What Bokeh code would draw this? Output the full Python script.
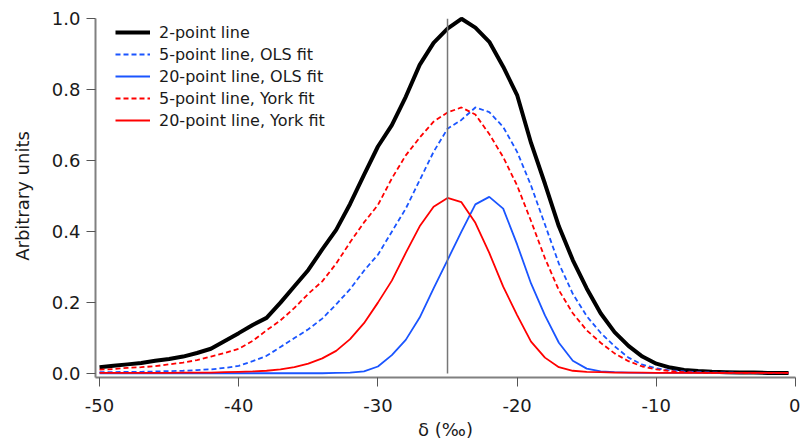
from bokeh.plotting import figure
from bokeh.embed import file_html
from bokeh.resources import INLINE
from bokeh.models import Legend, LegendItem, Range1d, FixedTicker, CustomJSTickFormatter

# ---- data ----
x_vals = [-50, -49, -48, -47, -46, -45, -44, -43, -42, -41,
          -40, -39, -38, -37, -36, -35, -34, -33, -32, -31,
          -30, -29, -28, -27, -26, -25, -24, -23, -22, -21,
          -20, -19, -18, -17, -16, -15, -14, -13, -12, -11,
          -10, -9, -8, -7, -6, -5, -4, -3, -2, -1, -0.5]

two_point = [0.018, 0.022, 0.026, 0.030, 0.036, 0.041, 0.048, 0.058, 0.070, 0.092,
             0.114, 0.137, 0.157, 0.200, 0.246, 0.292, 0.350, 0.405, 0.478, 0.560,
             0.640, 0.700, 0.780, 0.870, 0.932, 0.972, 1.000, 0.975, 0.935, 0.865,
             0.785, 0.650, 0.535, 0.415, 0.320, 0.240, 0.170, 0.117, 0.078, 0.048,
             0.028, 0.017, 0.010, 0.007, 0.005, 0.004, 0.003, 0.003, 0.002, 0.002, 0.002]

ols_5pt = [0.004, 0.004, 0.005, 0.005, 0.006, 0.007, 0.008, 0.010, 0.012, 0.016,
           0.022, 0.035, 0.050, 0.075, 0.100, 0.125, 0.155, 0.195, 0.238, 0.290,
           0.335, 0.400, 0.465, 0.545, 0.625, 0.690, 0.715, 0.750, 0.737, 0.695,
           0.625, 0.530, 0.420, 0.310, 0.225, 0.162, 0.115, 0.077, 0.045, 0.025,
           0.015, 0.009, 0.006, 0.004, 0.003, 0.003, 0.002, 0.002, 0.002, 0.002, 0.002]

ols_20pt = [0.001, 0.001, 0.001, 0.001, 0.001, 0.001, 0.001, 0.001, 0.001, 0.001,
            0.001, 0.001, 0.001, 0.001, 0.001, 0.001, 0.001, 0.002, 0.003, 0.006,
            0.020, 0.052, 0.095, 0.158, 0.240, 0.320, 0.400, 0.477, 0.498, 0.465,
            0.364, 0.254, 0.164, 0.087, 0.036, 0.014, 0.006, 0.004, 0.003, 0.002,
            0.002, 0.002, 0.002, 0.002, 0.002, 0.002, 0.002, 0.002, 0.002, 0.002, 0.002]

york_5pt = [0.011, 0.013, 0.016, 0.018, 0.021, 0.026, 0.031, 0.038, 0.048, 0.058,
            0.070, 0.092, 0.122, 0.150, 0.185, 0.225, 0.260, 0.310, 0.370, 0.426,
            0.475, 0.550, 0.615, 0.665, 0.710, 0.736, 0.750, 0.730, 0.675, 0.610,
            0.530, 0.430, 0.325, 0.235, 0.170, 0.122, 0.087, 0.057, 0.035, 0.020,
            0.012, 0.007, 0.004, 0.003, 0.002, 0.002, 0.002, 0.002, 0.002, 0.002, 0.002]

york_20pt = [0.002, 0.002, 0.002, 0.002, 0.002, 0.002, 0.003, 0.003, 0.003, 0.004,
             0.005, 0.006, 0.008, 0.012, 0.018, 0.028, 0.043, 0.064, 0.097, 0.142,
             0.200, 0.262, 0.340, 0.415, 0.470, 0.495, 0.483, 0.425, 0.340, 0.245,
             0.165, 0.090, 0.045, 0.018, 0.008, 0.005, 0.004, 0.003, 0.003, 0.003,
             0.002, 0.002, 0.002, 0.002, 0.002, 0.002, 0.002, 0.002, 0.002, 0.002, 0.002]

marker_x = [-25, -25]
marker_y = [0.0, 1.0]

labels = ["2-point line", "5-point line, OLS fit", "20-point line, OLS fit",
          "5-point line, York fit", "20-point line, York fit"]
x_ticks = [-50, -40, -30, -20, -10, 0]
y_ticks = [0.0, 0.2, 0.4, 0.6, 0.8, 1.0]

BLUE = "#1a55ff"
RED = "#ff0000"
FONT = "DejaVu Sans"

p = figure(frame_width=700, frame_height=363, output_backend="svg", toolbar_location=None,
           x_range=Range1d(-50.29, 0.0), y_range=Range1d(-0.011, 1.012),
           min_border_left=95, min_border_right=5, min_border_top=14, min_border_bottom=55)
p.outline_line_color = None
p.xgrid.grid_line_color = None
p.ygrid.grid_line_color = None
p.background_fill_color = "white"
p.border_fill_color = "white"

r_black = p.line(x_vals, two_point, line_color="black", line_width=4)
r_bd = p.line(x_vals, ols_5pt, line_color=BLUE, line_width=1.8, line_dash="5 3")
r_bs = p.line(x_vals, ols_20pt, line_color=BLUE, line_width=1.8)
r_rd = p.line(x_vals, york_5pt, line_color=RED, line_width=1.8, line_dash="5 3")
r_rs = p.line(x_vals, york_20pt, line_color=RED, line_width=1.8)
p.line(marker_x, marker_y, line_color="#777777", line_width=1.5)

for ax in (p.xaxis[0], p.yaxis[0]):
    ax.axis_line_color = "#808080"
    ax.axis_line_width = 2
    ax.major_tick_line_color = "#555555"
    ax.major_tick_line_width = 1
    ax.major_tick_in = 0
    ax.major_tick_out = 9
    ax.minor_tick_line_color = None
    ax.major_label_text_font = FONT
    ax.major_label_text_font_size = "18px"
    ax.major_label_text_color = "#1a1a1a"
    ax.axis_label_text_font = FONT
    ax.axis_label_text_font_size = "18px"
    ax.axis_label_text_font_style = "normal"
    ax.axis_label_text_color = "#1a1a1a"

p.xaxis[0].ticker = FixedTicker(ticks=x_ticks)
p.yaxis[0].ticker = FixedTicker(ticks=y_ticks)
p.yaxis[0].formatter = CustomJSTickFormatter(code="return tick.toFixed(1);")
p.xaxis[0].formatter = CustomJSTickFormatter(code="return tick.toFixed(0);")
p.yaxis[0].bounds = (-0.011, 1.0)
p.xaxis[0].bounds = (-50.29, 0.0)
p.yaxis[0].major_label_standoff = 6
p.xaxis[0].major_label_standoff = 12
p.yaxis[0].axis_label = "Arbitrary units"
p.xaxis[0].axis_label = "δ (‰)"
p.yaxis[0].axis_label_standoff = 16
p.xaxis[0].axis_label_standoff = 4

legend = Legend(items=[LegendItem(label=labels[0], renderers=[r_black]),
                       LegendItem(label=labels[1], renderers=[r_bd]),
                       LegendItem(label=labels[2], renderers=[r_bs]),
                       LegendItem(label=labels[3], renderers=[r_rd]),
                       LegendItem(label=labels[4], renderers=[r_rs])],
                location=(20, 247))
legend.border_line_color = None
legend.background_fill_alpha = 0
legend.padding = 0
legend.margin = 0
legend.spacing = 2
legend.glyph_width = 35
legend.glyph_height = 20
legend.label_height = 20
legend.label_standoff = 9
legend.label_text_font = FONT
legend.label_text_font_size = "16px"
legend.label_text_color = "#1a1a1a"
p.add_layout(legend)

open("out.html", "w").write(file_html(p, INLINE))
